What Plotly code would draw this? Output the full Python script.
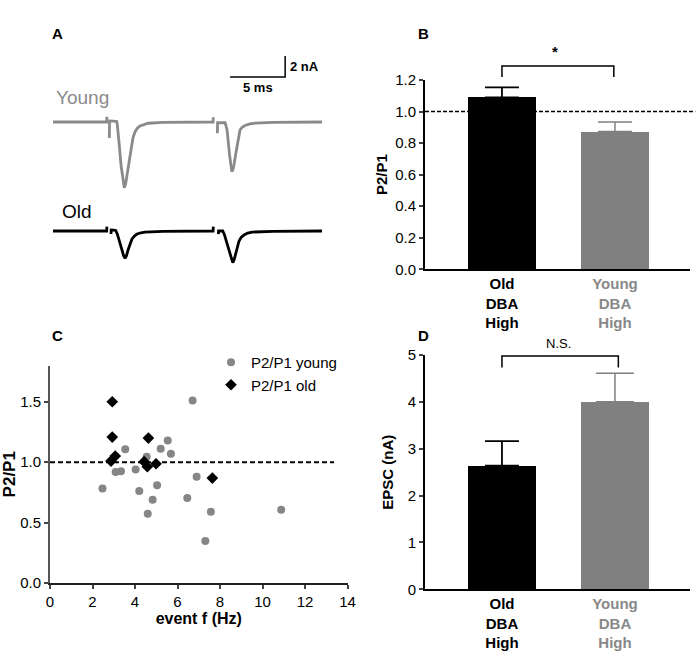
import plotly.graph_objects as go

FONT = "Liberation Sans, Arial, Helvetica, sans-serif"
TRACE_GRAY = "#8a8a8a"
BAR_GRAY = "#808080"
DOT_GRAY = "#868686"

# ---------------- Panel A: example EPSC traces (time in ms, current in nA) ----------------
young_t = [0, 4.88, 4.9, None, 5.12, 5.14, 5.5, 5.79, 5.85, 5.9, 6.05, 6.18, 6.33, 6.48,
           6.6, 6.73, 6.9, 7.09, 7.27, 7.45, 7.7, 7.91, 8.3, 8.64, 10.0, 14.55,
           14.57, None, 14.94, 14.96, 15.3, 15.64, 15.72, 15.82, 16.05, 16.15, 16.25,
           16.35, 16.45, 16.6, 16.73, 16.87, 17.0, 17.2, 17.45, 17.9, 18.36, 20.0, 24.45]
young_i = [0, 0, 0.5, None, -1.52, 0.1, 0.08, 0.05, -0.3, -0.76, -2.5, -4.1, -5.5, -6.26,
           -5.9, -5.05, -3.7, -2.3, -1.5, -0.95, -0.55, -0.38, -0.2, -0.12, -0.04, 0,
           0.45, None, -1.08, -0.07, -0.06, -0.07, -0.35, -0.76, -3.14, -4.1, -4.73,
           -4.55, -4.1, -3.1, -2.19, -1.4, -0.76, -0.5, -0.33, -0.18, -0.1, -0.03, 0]

old_t = [0, 4.88, 4.9, None, 5.27, 5.29, 5.5, 5.7, 5.85, 6.0, 6.27, 6.42, 6.55, 6.68, 6.82,
         7.0, 7.18, 7.4, 7.64, 8.0, 8.36, 10.0, 14.55,
         14.57, None, 15.03, 15.05, 15.25, 15.43, 15.58, 15.73, 16.05, 16.2, 16.34, 16.46,
         16.59, 16.75, 16.91, 17.1, 17.36, 17.7, 18.1, 20.0, 24.45]
old_i = [0, 0, 0.41, None, -0.29, 0.1, 0.08, 0.05, -0.3, -0.86, -1.81, -2.35, -2.6, -2.35, -1.81,
         -1.2, -0.76, -0.48, -0.29, -0.17, -0.1, -0.03, 0,
         0.41, None, -0.29, 0.0, 0.0, 0.0, -0.35, -0.86, -2.0, -2.65, -3.02, -2.75,
         -2.19, -1.5, -0.95, -0.6, -0.38, -0.2, -0.1, -0.03, 0]

scale_ms = 5
scale_na = 2
scale_t0 = 16.1
scale_i0 = 4.29

# ---------------- Panel B: paired-pulse ratio ----------------
groups = [0, 1]
group_labels = ["<b>Old<br>DBA<br>High</b>",
                "<b><span style='color:#888888'>Young</span><br><span style='color:#888888'>DBA</span><br><span style='color:#888888'>High</span></b>"]
ppr_mean = [1.09, 0.873]
ppr_sem = [0.063, 0.061]

# ---------------- Panel C: P2/P1 vs event frequency ----------------
young_f = [6.71, 5.54, 3.54, 5.21, 5.69, 4.55, 3.09, 3.34, 4.03, 2.47, 4.20, 5.04, 4.83,
           4.60, 6.90, 6.46, 7.57, 7.31, 10.88]
young_ppr = [1.511, 1.18, 1.106, 1.111, 1.07, 1.045, 0.918, 0.924, 0.940, 0.783, 0.761,
             0.808, 0.689, 0.573, 0.880, 0.703, 0.590, 0.347, 0.607]
old_f = [2.93, 2.93, 4.63, 3.07, 2.87, 4.43, 4.58, 4.99, 7.64]
old_ppr = [1.50, 1.208, 1.199, 1.05, 1.009, 1.004, 0.962, 0.987, 0.868]

# ---------------- Panel D: EPSC amplitude ----------------
epsc_mean = [2.64, 4.00]
epsc_sem = [0.52, 0.61]

ref_ratio = 1.0

fig = go.Figure()

# Panel A
fig.add_trace(go.Scatter(x=young_t, y=young_i, mode="lines", connectgaps=False,
                         line=dict(color=TRACE_GRAY, width=2.8), xaxis="x", yaxis="y",
                         showlegend=False, hoverinfo="skip"))
fig.add_trace(go.Scatter(x=old_t, y=old_i, mode="lines", connectgaps=False,
                         line=dict(color="black", width=2.8), xaxis="x", yaxis="y2",
                         showlegend=False, hoverinfo="skip"))
fig.add_trace(go.Scatter(x=[scale_t0, scale_t0 + scale_ms, scale_t0 + scale_ms],
                         y=[scale_i0, scale_i0, scale_i0 + scale_na], mode="lines",
                         line=dict(color="black", width=1.5), xaxis="x", yaxis="y",
                         showlegend=False, hoverinfo="skip"))

# Panel B
fig.add_trace(go.Bar(x=groups, y=ppr_mean, width=0.6, marker=dict(color=["black", BAR_GRAY], line=dict(width=0)),
                     xaxis="x3", yaxis="y3", showlegend=False))
fig.add_trace(go.Scatter(x=[groups[0]], y=[ppr_mean[0]], mode="markers", marker=dict(size=1, color="rgba(0,0,0,0)"),
                         error_y=dict(type="data", symmetric=False, array=[ppr_sem[0]], arrayminus=[0],
                                      color="black", thickness=1.8, width=17),
                         xaxis="x3", yaxis="y3", showlegend=False, hoverinfo="skip"))
fig.add_trace(go.Scatter(x=[groups[1]], y=[ppr_mean[1]], mode="markers", marker=dict(size=1, color="rgba(0,0,0,0)"),
                         error_y=dict(type="data", symmetric=False, array=[ppr_sem[1]], arrayminus=[0],
                                      color=BAR_GRAY, thickness=1.5, width=17),
                         xaxis="x3", yaxis="y3", showlegend=False, hoverinfo="skip"))

# Panel C
fig.add_trace(go.Scatter(x=young_f, y=young_ppr, mode="markers", name="P2/P1 young",
                         marker=dict(symbol="circle", size=8, color=DOT_GRAY),
                         xaxis="x4", yaxis="y4"))
fig.add_trace(go.Scatter(x=old_f, y=old_ppr, mode="markers", name="P2/P1 old",
                         marker=dict(symbol="diamond", size=9, color="black"),
                         xaxis="x4", yaxis="y4"))

# Panel D
fig.add_trace(go.Bar(x=groups, y=epsc_mean, width=0.6, marker=dict(color=["black", BAR_GRAY], line=dict(width=0)),
                     xaxis="x5", yaxis="y5", showlegend=False))
fig.add_trace(go.Scatter(x=[groups[0]], y=[epsc_mean[0]], mode="markers", marker=dict(size=1, color="rgba(0,0,0,0)"),
                         error_y=dict(type="data", symmetric=False, array=[epsc_sem[0]], arrayminus=[0],
                                      color="black", thickness=1.8, width=17),
                         xaxis="x5", yaxis="y5", showlegend=False, hoverinfo="skip"))
fig.add_trace(go.Scatter(x=[groups[1]], y=[epsc_mean[1]], mode="markers", marker=dict(size=1, color="rgba(0,0,0,0)"),
                         error_y=dict(type="data", symmetric=False, array=[epsc_sem[1]], arrayminus=[0],
                                      color=BAR_GRAY, thickness=1.5, width=19),
                         xaxis="x5", yaxis="y5", showlegend=False, hoverinfo="skip"))

W, H = 700, 660
def px_x(p):
    return p / W
def px_y(p):
    return 1 - p / H

tickfont = dict(family=FONT, size=15, color="black")

fig.update_layout(
    width=W, height=H,
    margin=dict(l=0, r=0, t=0, b=0, autoexpand=False),
    paper_bgcolor="white", plot_bgcolor="rgba(0,0,0,0)",
    font=dict(family=FONT, color="black"),
    # Panel A
    xaxis=dict(domain=[px_x(53), px_x(322)], range=[0, 24.45], visible=False),
    yaxis=dict(domain=[px_y(200), px_y(50)], range=[-7.43, 6.857], visible=False),
    yaxis2=dict(domain=[px_y(300), px_y(205)], range=[-6.571, 2.476], visible=False, anchor="x"),
    # Panel B
    xaxis3=dict(domain=[px_x(425), px_x(690)], range=[-0.681, 1.664], anchor="y3",
                tickvals=groups, ticktext=group_labels, showline=True, linecolor="black", linewidth=2,
                ticks="", showgrid=False, zeroline=False, tickfont=tickfont),
    yaxis3=dict(domain=[px_y(269.3), px_y(80)], range=[0, 1.2], anchor="x3",
                tickvals=[0, 0.2, 0.4, 0.6, 0.8, 1.0, 1.2], tickformat=".1f",
                showline=True, linecolor="black", linewidth=2, ticks="outside", ticklen=4, tickwidth=1.5,
                showgrid=False, zeroline=False, tickfont=tickfont,
                title=dict(text="<b>P2/P1</b>", font=dict(family=FONT, size=15), standoff=4)),
    # Panel C
    xaxis4=dict(domain=[px_x(50), px_x(347.5)], range=[0, 14], anchor="y4", dtick=2,
                showline=True, linecolor="#222", linewidth=1.6, ticks="outside", ticklen=4, tickwidth=1.5,
                showgrid=False, zeroline=False, tickfont=tickfont,
                title=dict(text="<b>event f (Hz)</b>", font=dict(family=FONT, size=16), standoff=4)),
    yaxis4=dict(domain=[px_y(583), px_y(365.5)], range=[0, 1.8], anchor="x4",
                tickvals=[0, 0.5, 1.0, 1.5], tickformat=".1f",
                showline=True, linecolor="#555", linewidth=2, ticks="outside", ticklen=4, tickwidth=1.5,
                showgrid=False, zeroline=False, tickfont=tickfont,
                title=dict(text="<b>P2/P1</b>", font=dict(family=FONT, size=17), standoff=1)),
    # Panel D
    xaxis5=dict(domain=[px_x(425), px_x(690)], range=[-0.681, 1.664], anchor="y5",
                tickvals=groups, ticktext=group_labels, showline=True, linecolor="black", linewidth=2,
                ticks="", showgrid=False, zeroline=False, tickfont=tickfont),
    yaxis5=dict(domain=[px_y(589.3), px_y(355)], range=[0, 5], anchor="x5", dtick=1,
                showline=True, linecolor="black", linewidth=2, ticks="outside", ticklen=4, tickwidth=1.5,
                showgrid=False, zeroline=False, tickfont=tickfont,
                title=dict(text="<b>EPSC (nA)</b>", font=dict(family=FONT, size=15), standoff=10)),
    legend=dict(x=px_x(211), y=px_y(346), xanchor="left", yanchor="top",
                bgcolor="rgba(0,0,0,0)", font=dict(family=FONT, size=15, color="black"),
                itemwidth=30, tracegroupgap=0),
    bargap=0,
)

# Reference lines at P2/P1 = 1
fig.add_shape(type="line", xref="x3 domain", yref="y3", x0=0, x1=1.02, y0=ref_ratio, y1=ref_ratio,
              line=dict(color="black", width=1.6, dash="4px,2px"))
fig.add_shape(type="line", xref="x4 domain", yref="y4", x0=0, x1=0.955, y0=ref_ratio, y1=ref_ratio,
              line=dict(color="black", width=2, dash="5px,3px"))

# Significance brackets
fig.add_shape(type="path", xref="x3", yref="y3 domain",
              path="M 0,1.016 L 0,1.074 L 0.99,1.074 L 0.99,1.016",
              line=dict(color="black", width=1.5))
fig.add_shape(type="path", xref="x5", yref="y5 domain",
              path="M 0,0.947 L 0,0.996 L 1.03,0.996 L 1.03,0.947",
              line=dict(color="black", width=1.5))
fig.add_annotation(x=0.47, y=1.148, xref="x3", yref="y3 domain", text="<b>*</b>", showarrow=False,
                   font=dict(family=FONT, size=15), xanchor="center", yanchor="middle")
fig.add_annotation(x=0.5, y=1.047, xref="x5", yref="y5 domain", text="N.S.", showarrow=False,
                   font=dict(family=FONT, size=13), xanchor="center", yanchor="middle")

# Scale bar labels
fig.add_annotation(x=scale_t0 + scale_ms, y=scale_i0 + scale_na / 2, xref="x", yref="y",
                   text="<b>2 nA</b>", showarrow=False, xanchor="left", yanchor="middle", xshift=3,
                   font=dict(family=FONT, size=13))
fig.add_annotation(x=scale_t0 + scale_ms / 2, y=scale_i0, xref="x", yref="y",
                   text="<b>5 ms</b>", showarrow=False, xanchor="center", yanchor="top", yshift=-1,
                   font=dict(family=FONT, size=13))

# Trace labels
fig.add_annotation(x=px_x(54), y=px_y(98), xref="paper", yref="paper", text="Young", showarrow=False,
                   xanchor="left", yanchor="middle", font=dict(family=FONT, size=19, color=TRACE_GRAY))
fig.add_annotation(x=px_x(60), y=px_y(211), xref="paper", yref="paper", text="Old", showarrow=False,
                   xanchor="left", yanchor="middle", font=dict(family=FONT, size=19, color="black"))

# Panel letters
for letter, (lx, ly) in {"A": (58, 33), "B": (423, 33), "C": (58, 335), "D": (423, 335)}.items():
    fig.add_annotation(x=px_x(lx), y=px_y(ly), xref="paper", yref="paper", text=f"<b>{letter}</b>",
                       showarrow=False, xanchor="center", yanchor="middle", font=dict(family=FONT, size=15))

fig.write_html("out.html", config={"responsive": False, "displayModeBar": False},
               post_script="document.body.style.margin='0';document.body.style.overflow='hidden';")
